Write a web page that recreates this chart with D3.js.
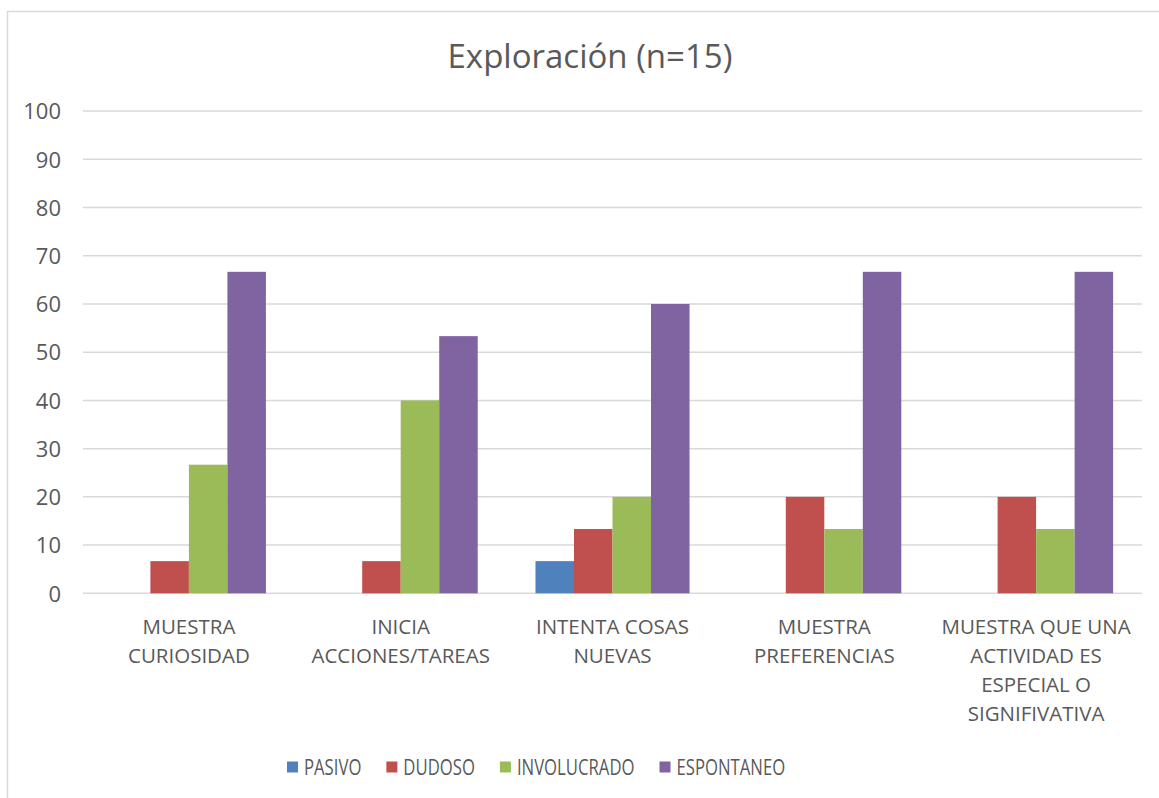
<!DOCTYPE html>
<html>
<head>
<meta charset="utf-8">
<script src="https://cdn.jsdelivr.net/npm/d3@7"></script>
<style>
  body { margin: 0; background: #fff; }
  text { font-family: "Open Sans", "Noto Sans", sans-serif; fill: #595959; }
</style>
</head>
<body>
<div id="chart"></div>
<script>
const svgWidth = 1159;
const svgHeight = 798;

// data
const categories = [
  ["MUESTRA", "CURIOSIDAD"],
  ["INICIA", "ACCIONES/TAREAS"],
  ["INTENTA COSAS", "NUEVAS"],
  ["MUESTRA", "PREFERENCIAS"],
  ["MUESTRA QUE UNA", "ACTIVIDAD ES", "ESPECIAL O", "SIGNIFIVATIVA"]
];
const seriesNames = ["PASIVO", "DUDOSO", "INVOLUCRADO", "ESPONTANEO"];
const seriesColors = ["#4F81BD", "#C0504D", "#9BBB59", "#8064A2"];
const pasivo      = [0, 0, 6.67, 0, 0];
const dudoso      = [6.67, 6.67, 13.33, 20, 20];
const involucrado = [26.67, 40, 20, 13.33, 13.33];
const espontaneo  = [66.67, 53.33, 60, 66.67, 66.67];
const yTicks = [0, 10, 20, 30, 40, 50, 60, 70, 80, 90, 100];

const seriesValues = [pasivo, dudoso, involucrado, espontaneo];

const plot = { left: 83, right: 1142, top: 111.1, bottom: 593.3 };

const svg = d3.select("#chart")
  .append("svg")
  .attr("width", svgWidth)
  .attr("height", svgHeight);

// chart border (cut off at right and bottom like the reference)
svg.append("path")
  .attr("d", `M7.5,${svgHeight} V11.5 H${svgWidth}`)
  .attr("fill", "none")
  .attr("stroke", "#d9d9d9")
  .attr("stroke-width", 1.5);

// title
svg.append("text")
  .attr("x", 590)
  .attr("y", 68)
  .attr("text-anchor", "middle")
  .style("font-size", "33px")
  .text("Exploración (n=15)");

const x0 = d3.scaleBand()
  .domain(d3.range(categories.length))
  .range([plot.left, plot.right])
  .paddingInner(0)
  .paddingOuter(0);

// gap width 150% -> bars take 4/(4+1.5) of category
const groupWidth = x0.bandwidth() * 4 / 5.5;
const x1 = d3.scaleBand()
  .domain(d3.range(seriesNames.length))
  .range([0, groupWidth]);

const y = d3.scaleLinear()
  .domain([0, 100])
  .range([plot.bottom, plot.top]);

// gridlines
svg.append("g")
  .selectAll("line")
  .data(yTicks)
  .enter()
  .append("line")
  .attr("x1", plot.left)
  .attr("x2", plot.right)
  .attr("y1", d => y(d))
  .attr("y2", d => y(d))
  .attr("stroke", "#d9d9d9")
  .attr("stroke-width", 1.5);

// y axis labels
const leftAxis = d3.axisLeft(y).tickValues(yTicks).tickSize(0).tickPadding(0);
const yAxis = svg.append("g")
  .attr("transform", `translate(61, 0)`)
  .call(leftAxis);
yAxis.select(".domain").remove();
yAxis.attr("font-family", null);
yAxis.selectAll("text")
  .style("font-size", "22px")
  .attr("fill", "#595959")
  .attr("dy", "0.35em");

// bars
const groups = svg.append("g")
  .selectAll("g")
  .data(categories.map((c, i) => i))
  .enter()
  .append("g")
  .attr("transform", i => `translate(${x0(i) + (x0.bandwidth() - groupWidth) / 2}, 0)`);

groups.selectAll("rect")
  .data(i => seriesValues.map((vals, s) => ({ s: s, v: vals[i] })))
  .enter()
  .append("rect")
  .attr("x", d => x1(d.s))
  .attr("width", x1.bandwidth())
  .attr("y", d => y(d.v))
  .attr("height", d => y(0) - y(d.v))
  .attr("fill", d => seriesColors[d.s]);

// category labels
const catLabels = svg.append("g")
  .selectAll("text")
  .data(categories)
  .enter()
  .append("text")
  .attr("x", (d, i) => x0(i) + x0.bandwidth() / 2)
  .attr("y", 633.5)
  .attr("text-anchor", "middle")
  .style("font-size", "20.5px");

catLabels.selectAll("tspan")
  .data(d => d)
  .enter()
  .append("tspan")
  .attr("x", function() { return d3.select(this.parentNode).attr("x"); })
  .attr("dy", (d, i) => i === 0 ? 0 : 29.2)
  .text(d => d);

// legend (text is condensed in the reference)
const squeeze = 0.76;
const legend = svg.append("g").attr("transform", "translate(287, 767)");
let lx = 0;
seriesNames.forEach((name, i) => {
  const item = legend.append("g").attr("transform", `translate(${lx}, 0)`);
  item.append("rect")
    .attr("x", 0)
    .attr("y", -5.5)
    .attr("width", 11)
    .attr("height", 11)
    .attr("fill", seriesColors[i]);
  const t = item.append("text")
    .attr("transform", `translate(17, 0) scale(${squeeze}, 1)`)
    .attr("dy", "0.36em")
    .style("font-size", "22px")
    .text(name);
  lx += 17 + t.node().getComputedTextLength() * squeeze + 25;
});
</script>
</body>
</html>
